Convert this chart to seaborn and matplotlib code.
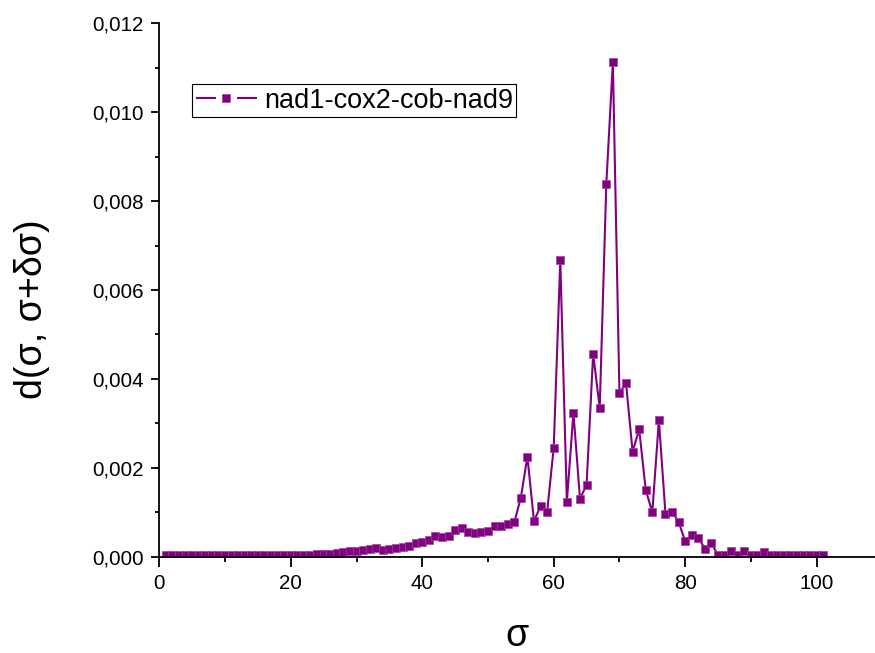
import matplotlib
matplotlib.use("Agg")
import matplotlib.pyplot as plt
import numpy as np
import pandas as pd
import seaborn as sns

# sigma values (integer steps) and the measured d(sigma, sigma+dsigma)
sigma = list(range(1, 102))
d_values = [
    0.00003, 0.00003, 0.00003, 0.00003, 0.00003, 0.00003, 0.00003, 0.00003, 0.00003, 0.00003,   # 1-10
    0.00003, 0.00003, 0.00003, 0.00003, 0.00003, 0.00003, 0.00003, 0.00003, 0.00003, 0.00003,   # 11-20
    0.00003, 0.00003, 0.00004, 0.00005, 0.00006, 0.00007, 0.00008, 0.00010, 0.00012, 0.00013,   # 21-30
    0.00015, 0.00017, 0.00020, 0.00016, 0.00017, 0.00019, 0.00022, 0.00025, 0.00031, 0.00034,   # 31-40
    0.00038, 0.00046, 0.00045, 0.00046, 0.00060, 0.00064, 0.00055, 0.00053, 0.00055, 0.00058,   # 41-50
    0.00068, 0.00069, 0.00073, 0.00077, 0.00133, 0.00225, 0.00080, 0.00114, 0.00101, 0.00245,   # 51-60
    0.00667, 0.00124, 0.00324, 0.00130, 0.00162, 0.00456, 0.00335, 0.00838, 0.01112, 0.00368,   # 61-70
    0.00391, 0.00236, 0.00287, 0.00150, 0.00100, 0.00307, 0.00097, 0.00101, 0.00078, 0.00035,   # 71-80
    0.00049, 0.00043, 0.00018, 0.00030, 0.00003, 0.00003, 0.00012, 0.00003, 0.00012, 0.00003,   # 81-90
    0.00003, 0.00011, 0.00003, 0.00003, 0.00003, 0.00003, 0.00003, 0.00003, 0.00003, 0.00003,   # 91-100
    0.00003,                                                                                     # 101
]
series_name = "nad1-cox2-cob-nad9"

x_ticks = [0, 20, 40, 60, 80, 100]
x_tick_labels = ["0", "20", "40", "60", "80", "100"]
y_ticks = [0.000, 0.002, 0.004, 0.006, 0.008, 0.010, 0.012]
y_tick_labels = ["0,000", "0,002", "0,004", "0,006", "0,008", "0,010", "0,012"]

df = pd.DataFrame({"sigma": sigma, "d": d_values})

sns.set_style("ticks")
plt.rcParams["font.family"] = ["Liberation Sans", "DejaVu Sans"]
plt.rcParams["text.color"] = "black"
plt.rcParams["axes.labelcolor"] = "black"
plt.rcParams["xtick.color"] = "black"
plt.rcParams["ytick.color"] = "black"

W, H = 875, 653
fig = plt.figure(figsize=(W / 100, H / 100), dpi=100)
x0, y0 = 159.3, 556.7
ax_w, ax_h = 715.2, 533.4
ax = fig.add_axes([x0 / W, (H - y0) / H, ax_w / W, ax_h / H])

purple = "#800080"
sns.lineplot(
    data=df, x="sigma", y="d", ax=ax, color=purple, linewidth=1.5,
    marker="s", markersize=5.3, markeredgecolor="#a040a0", markeredgewidth=0.5,
    errorbar=None, label=series_name,
)

ax.set_xlim(0, 108.8)
ax.set_ylim(0, 0.012)
ax.set_xticks(x_ticks)
ax.set_xticklabels(x_tick_labels)
ax.set_yticks(y_ticks)
ax.set_yticklabels(y_tick_labels)
ax.xaxis.set_minor_locator(matplotlib.ticker.MultipleLocator(10))
ax.yaxis.set_minor_locator(matplotlib.ticker.MultipleLocator(0.001))

for side in ("top", "right"):
    ax.spines[side].set_visible(False)
for side in ("left", "bottom"):
    ax.spines[side].set_linewidth(1.3)
    ax.spines[side].set_color("black")

ax.tick_params(axis="x", which="major", direction="out", length=7.5, width=1.3,
               labelsize=14.8, pad=5, colors="black")
ax.tick_params(axis="x", which="minor", direction="out", length=3.8, width=1.3, colors="black")
ax.tick_params(axis="y", which="major", direction="out", length=6, width=1.3,
               labelsize=14.8, pad=5, colors="black")
ax.tick_params(axis="y", which="minor", direction="out", length=3.2, width=1.3, colors="black")

ax.set_xlabel("σ", fontsize=27, color="black")
ax.set_ylabel("d(σ, σ+δσ)", fontsize=27, color="black")
ax.xaxis.set_label_coords(0.5, -0.114)
ax.yaxis.set_label_coords(-0.153, 0.464)

leg = ax.legend(
    loc="upper left", bbox_to_anchor=(192.3 / W, 1 - 84.3 / H),
    bbox_transform=fig.transFigure, fontsize=19.5, frameon=True, fancybox=False,
    shadow=False, framealpha=1, edgecolor="black", handlelength=2.26,
    handletextpad=0.26, borderpad=0.12, borderaxespad=0, markerscale=1.0,
)
leg.get_frame().set_linewidth(0.8)
for t in leg.get_texts():
    t.set_color("black")
# legend sample: line segments with a gap around the marker
for h in leg.get_lines():
    h.set_linestyle((0, (9.6, 10.1, 9.6, 100)))

fig.savefig("out.png", dpi=100)
